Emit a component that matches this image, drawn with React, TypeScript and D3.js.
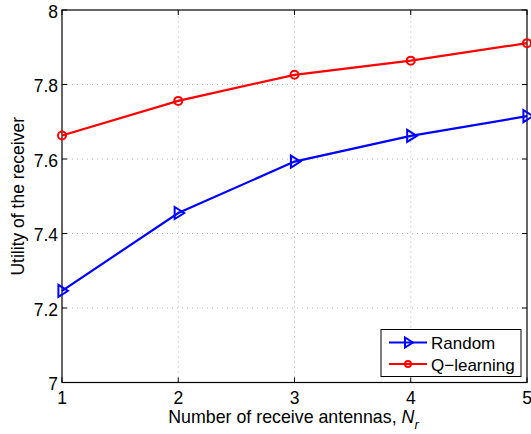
import { useEffect, useRef } from 'react';
import * as d3 from 'd3';

const antennas = [1, 2, 3, 4, 5];
const randomUtility = [7.246, 7.455, 7.593, 7.662, 7.715];
const qlearningUtility = [7.663, 7.756, 7.826, 7.864, 7.911];
const yTicks = [7, 7.2, 7.4, 7.6, 7.8, 8];
const xTicks = [1, 2, 3, 4, 5];

const App = () => {
  const svgRef = useRef<SVGSVGElement>(null);

  useEffect(() => {
    const svg = d3.select(svgRef.current);
    svg.selectAll('*').remove();

    const width = 531;
    const height = 434;
    const margin = { top: 10, right: 4, bottom: 51.5, left: 62 };
    const font = 'Liberation Sans, Arial, sans-serif';
    const fs = 17.5;

    const x = d3.scaleLinear().domain([1, 5]).range([margin.left, width - margin.right]);
    const y = d3.scaleLinear().domain([7, 8]).range([height - margin.bottom, margin.top]);

    svg.attr('width', width).attr('height', height);
    svg.append('rect').attr('width', width).attr('height', height).attr('fill', '#fff');

    const x0 = x(1), x1 = x(5), y0 = y(7), y1 = y(8);

    // grid
    const grid = svg.append('g')
      .attr('stroke', '#b0b0b0')
      .attr('stroke-width', 1)
      .attr('stroke-dasharray', '1,4');
    grid.selectAll('.gx')
      .data(xTicks.slice(1, -1))
      .enter()
      .append('line')
      .attr('x1', d => x(d)).attr('x2', d => x(d))
      .attr('y1', y0).attr('y2', y1);
    grid.selectAll('.gy')
      .data(yTicks.slice(1, -1))
      .enter()
      .append('line')
      .attr('y1', d => y(d)).attr('y2', d => y(d))
      .attr('x1', x0).attr('x2', x1);

    // ticks (inward, both sides)
    const ticks = svg.append('g').attr('stroke', '#000').attr('stroke-width', 1);
    xTicks.forEach(t => {
      ticks.append('line').attr('x1', x(t)).attr('x2', x(t)).attr('y1', y0).attr('y2', y0 - 5);
      ticks.append('line').attr('x1', x(t)).attr('x2', x(t)).attr('y1', y1).attr('y2', y1 + 5);
    });
    yTicks.forEach(t => {
      ticks.append('line').attr('y1', y(t)).attr('y2', y(t)).attr('x1', x0).attr('x2', x0 + 5);
      ticks.append('line').attr('y1', y(t)).attr('y2', y(t)).attr('x1', x1).attr('x2', x1 - 5);
    });

    // frame
    svg.append('rect')
      .attr('x', x0).attr('y', y1)
      .attr('width', x1 - x0).attr('height', y0 - y1)
      .attr('fill', 'none').attr('stroke', '#000').attr('stroke-width', 1.2);

    // tick labels
    svg.selectAll('.xl')
      .data(xTicks)
      .enter()
      .append('text')
      .attr('x', d => x(d))
      .attr('y', y0 + 21)
      .attr('text-anchor', 'middle')
      .attr('font-family', font)
      .attr('font-size', fs)
      .text(d => d);
    svg.selectAll('.yl')
      .data(yTicks)
      .enter()
      .append('text')
      .attr('x', x0 - 4)
      .attr('y', d => y(d) + 7.5)
      .attr('text-anchor', 'end')
      .attr('font-family', font)
      .attr('font-size', fs)
      .text(d => d3.format('')(d));

    // axis titles
    const xt = svg.append('text')
      .attr('x', (x0 + x1) / 2 - 1)
      .attr('y', 423)
      .attr('text-anchor', 'middle')
      .attr('font-family', font)
      .attr('font-size', 17.8);
    xt.append('tspan').text('Number of receive antennas, ');
    xt.append('tspan').attr('font-style', 'italic').text('N');
    xt.append('tspan').attr('font-style', 'italic').attr('font-size', 13).attr('dy', 6).text('r');

    svg.append('text')
      .attr('transform', `translate(24,${(y0 + y1) / 2}) rotate(-90)`)
      .attr('text-anchor', 'middle')
      .attr('font-family', font)
      .attr('font-size', fs)
      .text('Utility of the receiver');

    const line = d3.line<number>().x((_, i) => x(antennas[i])).y(d => y(d));
    const tri = (cx: number, cy: number, s: number) =>
      `M${cx + s},${cy} L${cx - s * 0.6},${cy - s} L${cx - s * 0.6},${cy + s} Z`;

    const series = [
      { name: 'Random', values: randomUtility, color: '#0000ff', marker: 'tri' },
      { name: 'Q\u2212learning', values: qlearningUtility, color: '#ff0000', marker: 'circle' },
    ];

    series.forEach(s => {
      svg.append('path')
        .attr('d', line(s.values))
        .attr('fill', 'none')
        .attr('stroke', s.color)
        .attr('stroke-width', 2.2);
      s.values.forEach((v, i) => {
        if (s.marker === 'tri') {
          svg.append('path')
            .attr('d', tri(x(antennas[i]), y(v), 6))
            .attr('fill', 'none')
            .attr('stroke', s.color)
            .attr('stroke-width', 2);
        } else {
          svg.append('circle')
            .attr('cx', x(antennas[i]))
            .attr('cy', y(v))
            .attr('r', 4)
            .attr('fill', 'none')
            .attr('stroke', s.color)
            .attr('stroke-width', 2);
        }
      });
    });

    // legend
    const lg = svg.append('g');
    lg.append('rect')
      .attr('x', 381).attr('y', 329.5)
      .attr('width', 140).attr('height', 47)
      .attr('fill', '#fff').attr('stroke', '#000').attr('stroke-width', 1);
    series.forEach((s, i) => {
      const ly = 342.5 + i * 21.5;
      lg.append('line')
        .attr('x1', 389).attr('x2', 427)
        .attr('y1', ly).attr('y2', ly)
        .attr('stroke', s.color).attr('stroke-width', 2.2);
      if (s.marker === 'tri') {
        lg.append('path').attr('d', tri(408, ly, 5))
          .attr('fill', 'none').attr('stroke', s.color).attr('stroke-width', 2);
      } else {
        lg.append('circle').attr('cx', 408).attr('cy', ly).attr('r', 3)
          .attr('fill', 'none').attr('stroke', s.color).attr('stroke-width', 2);
      }
      lg.append('text')
        .attr('x', 431).attr('y', ly + 6.5)
        .attr('font-family', font)
        .attr('font-size', 17)
        .text(s.name);
    });
  }, []);

  return <svg ref={svgRef} style={{ position: 'absolute', left: 0, top: 0 }}></svg>;
};

export default App;
